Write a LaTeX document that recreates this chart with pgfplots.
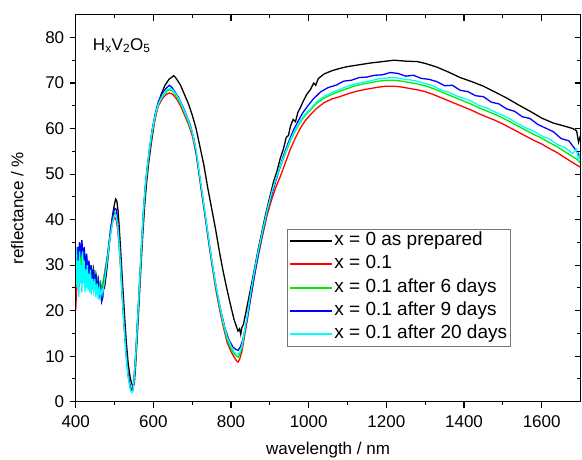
\documentclass[border=0pt]{standalone}
\usepackage{fontspec}
\setmainfont{Liberation Sans}
\usepackage{pgfplots}
\pgfplotsset{compat=1.18}
\definecolor{cgreen}{RGB}{0,235,0}
\definecolor{cblue}{RGB}{0,0,255}
\definecolor{ccyan}{RGB}{0,255,255}
\definecolor{cred}{RGB}{255,0,0}
\definecolor{lgray}{RGB}{120,120,120}
\begin{document}
\begin{tikzpicture}[x=1pt,y=1pt]
\pgfplotsset{
  common/.style={
    at={(0pt,0pt)}, anchor=south west,
    width=504.8pt, height=387pt, scale only axis,
    xmin=400, xmax=1700, ymin=0, ymax=85,
    xtick={400,600,...,1600}, ytick={0,10,...,80},
    minor x tick num=1, minor y tick num=1,
    major tick length=6pt, minor tick length=3.5pt,
    axis line style={line width=1.3pt},
    every tick/.style={line width=1.1pt, black},
  }
}
\begin{axis}[common,
  tick align=outside, xtick pos=left, ytick pos=left,
  /pgf/number format/assume math mode=true,
  /pgf/number format/1000 sep={},
  ticklabel style={font=\fontsize{17}{20}\selectfont},
  xticklabel style={anchor=north, yshift=-4pt},
  yticklabel style={anchor=east, xshift=-2pt},
  xlabel={wavelength / nm}, ylabel={reflectance / \%},
  xlabel style={font=\fontsize{17}{20}\selectfont, at={(axis description cs:0.5,-0.1364)}, anchor=base},
  ylabel style={font=\fontsize{17}{20}\selectfont, at={(axis description cs:-0.1038,0.5)}, anchor=base},
  legend cell align=left,
  legend style={at={(axis description cs:0.4186,0.4463)}, anchor=north west,
    draw=lgray, line width=0.8pt, inner sep=2pt, row sep=4.4pt,
    font=\fontsize{19}{21}\selectfont,
    nodes={inner sep=1pt, text height=13pt, text depth=4pt}},
  legend image code/.code={\draw[#1, line width=2pt] (0pt,0pt) -- (42pt,0pt);},
]
\addplot[draw=black, line width=1.3pt] coordinates {
(400,28)(402,32)(404,29)(406,34)(408,30)(410,35)(413,31)(416,34.5)(419,30)(422,33)(425,29)(428,32)(431,28)(434,30.5)(437,27.5)(440,30)(443,27)(446,29)(449,26.5)(452,28)(455,26)(458,27)(461,25)(464,26)(467,24)(470,24.5)(474,25)(478,27.5)(482,30.5)(486,34)(490,37.5)(495,41)(500,43.5)(503,44.5)(506,44)(509,42)(512,38.5)(516,33)(520,27)(525,20)(530,13.5)(535,8.5)(540,5.5)(544,4)(548,3.3)(551,4)(554,7.5)(558,13.5)(563,21.5)(568,29.5)(573,37)(578,43.5)(583,48.5)(588,52.5)(595,57)(602,61)(610,64.5)(620,67.5)(630,69.5)(640,70.8)(648,71.3)(652,71.6)(656,71.3)(662,70.6)(670,69.5)(680,67.5)(690,65.5)(700,63)(710,60)(720,56)(730,52)(740,47)(750,42.5)(760,38)(770,33)(780,28.5)(790,24.5)(800,20.8)(808,18)(814,16.5)(818,15.5)(822,16)(825,14.8)(828,16.3)(832,17)(838,19.5)(845,22.5)(852,25.5)(860,29)(870,33.5)(880,37.5)(890,41.5)(900,45)(910,48.5)(918,50.5)(927,53.5)(935,55.5)(942,58)(948,58.5)(953,60.5)(960,62)(966,61.5)(972,63.5)(978,64.5)(986,66)(995,67.5)(1004,68.5)(1013,70)(1018,69.5)(1025,71)(1040,72)(1060,72.7)(1080,73.2)(1100,73.6)(1130,74)(1160,74.4)(1190,74.7)(1220,75)(1250,74.8)(1280,74.7)(1300,74.3)(1330,73.5)(1360,72.4)(1390,71.2)(1420,70.3)(1450,69.3)(1480,68)(1510,66.7)(1540,65.2)(1570,63.8)(1600,62.3)(1630,61.2)(1660,60.5)(1680,60)(1690,59.5)(1695,57)(1700,58.5)
};
\addlegendentry{x = 0 as prepared}
\addplot[draw=cred, line width=1.3pt] coordinates {
(400,20)(402,24)(405,27)(408,25)(411,29)(414,26)(417,31)(420,27)(423,30)(426,26)(429,29)(432,27)(435,28)(438,26)(441,27.5)(444,25.5)(447,27)(450,25)(453,26)(456,24.5)(459,25.5)(462,24)(465,24.5)(468,25)(472,27)(476,29)(480,31)(485,34)(490,37)(495,39.5)(500,40.5)(504,40)(508,38)(512,34)(516,29)(520,23)(525,16.5)(530,10.5)(535,6)(540,3.5)(544,2.5)(547,2.5)(550,4.5)(555,10.5)(560,18.5)(565,26.5)(570,34.5)(575,42)(580,47.5)(585,51.5)(590,55)(597,59)(605,62.5)(613,65)(625,66.8)(635,67.6)(642,67.8)(650,67.5)(660,66.5)(670,65)(680,63)(690,61)(700,58.5)(710,54.5)(720,48.5)(730,42.5)(740,36.5)(750,30.5)(760,25)(770,20.5)(780,16.5)(790,13)(800,11)(808,9.8)(814,9)(818,8.7)(822,9.3)(828,11)(835,14.5)(842,18)(850,22.5)(860,27.5)(870,32)(880,36)(893,41)(905,44.5)(915,47)(927,49.5)(940,52.5)(953,55.5)(965,57.8)(978,60)(990,61.6)(1004,63)(1020,64.4)(1040,65.7)(1060,66.5)(1080,67)(1100,67.6)(1120,68.1)(1140,68.5)(1160,68.8)(1180,69.1)(1200,69.3)(1220,69.3)(1240,69.1)(1260,68.8)(1280,68.5)(1300,68.1)(1320,67.5)(1340,66.8)(1360,66.1)(1380,65.4)(1400,64.7)(1420,64)(1440,63.2)(1460,62.5)(1480,61.8)(1500,61)(1520,60.1)(1540,59.2)(1560,58.3)(1580,57.4)(1600,56.6)(1620,55.6)(1640,54.7)(1660,53.6)(1680,52.5)(1690,52)(1700,51.5)
};
\addlegendentry{x = 0.1}
\addplot[draw=cgreen, line width=1.3pt] coordinates {
(400,26)(403,30)(406,27)(409,32)(412,28)(415,33)(418,29)(421,32)(424,28)(427,31)(430,27.5)(433,30)(436,27)(439,29)(442,26.5)(445,28.5)(448,26.5)(451,28)(454,25.5)(457,27)(460,25)(463,26)(466,25)(470,26)(474,28)(478,30)(482,32)(486,35)(490,37.5)(495,40)(500,41.5)(504,41.3)(508,39.2)(512,34.8)(516,29.2)(520,23.3)(525,16.3)(530,10.3)(535,5.7)(540,3.2)(544,2.3)(547,2.4)(550,4.6)(555,10.8)(560,18.9)(565,26.8)(570,34.8)(575,42.3)(580,47.8)(585,51.8)(590,55.3)(597,59.3)(605,62.8)(613,65.3)(625,67.3)(635,68.2)(642,68.5)(650,68.2)(660,67)(670,65.5)(680,63.5)(690,61.5)(700,59)(710,55)(720,49)(730,43)(740,37)(750,31)(760,25.6)(770,21.1)(780,17)(790,13.7)(800,11.7)(808,10.5)(814,10)(818,9.8)(822,10.3)(828,11.8)(835,15.2)(842,18.7)(850,23.2)(860,28.2)(870,32.7)(880,36.7)(893,41.7)(905,45.7)(915,48.5)(927,51.5)(940,54.5)(953,57.3)(965,59.4)(978,61.3)(990,62.8)(1004,64)(1020,65.5)(1040,66.7)(1060,67.5)(1080,68.2)(1100,68.8)(1120,69.4)(1140,69.8)(1160,70.1)(1180,70.4)(1200,70.6)(1220,70.6)(1240,70.4)(1260,70.1)(1280,69.8)(1300,69.4)(1320,68.8)(1340,68.1)(1360,67.4)(1380,66.7)(1400,66)(1420,65.3)(1440,64.5)(1460,63.8)(1480,63.1)(1500,62.3)(1520,61.4)(1540,60.5)(1560,59.6)(1580,58.7)(1600,57.9)(1620,56.9)(1640,56)(1660,54.9)(1680,53.8)(1690,53.3)(1700,52.5)
};
\addlegendentry{x = 0.1 after 6 days}
\addplot[draw=cblue, line width=1.3pt] coordinates {
(400,30)(402,33)(404,29)(406,34)(408,31)(410,35)(413,32)(416,35.5)(419,31)(422,34)(425,29)(428,32.5)(431,28)(434,31)(437,27)(440,30)(443,26.5)(446,29)(449,25.5)(452,28)(455,24.5)(458,26.5)(461,23.5)(464,25)(467,22)(470,23)(474,27)(478,29.5)(482,32)(486,35)(490,38)(495,40.5)(500,42.5)(504,42.3)(508,40)(512,35.5)(516,30)(520,24)(525,17)(530,11)(535,6)(540,3.5)(544,2.5)(547,2.6)(550,4.8)(555,11)(560,19)(565,27)(570,35)(575,42.5)(580,48)(585,52)(590,55.5)(597,59.8)(605,63.3)(613,66)(625,68)(635,69)(641,69.5)(648,69)(656,68)(665,66.8)(675,65)(685,63)(695,60.8)(705,57.5)(715,52)(725,46)(735,40)(745,34)(755,28.5)(765,23.5)(775,19.5)(785,16)(795,13.5)(805,12)(812,11.5)(818,11.3)(824,12)(830,13.5)(838,16.5)(846,20.5)(855,25)(865,30)(875,34.5)(887,39.5)(898,43.5)(910,47)(922,50.5)(935,54)(948,57)(960,59.5)(972,61.5)(985,63.5)(998,65)(1012,66.5)(1030,68)(1050,69)(1070,69.5)(1090,70.4)(1110,70.6)(1130,71.2)(1150,71.3)(1170,71.7)(1190,71.8)(1210,72.3)(1230,72.1)(1250,71.5)(1270,71.7)(1290,71)(1310,70.8)(1330,70.3)(1350,69.4)(1370,69.5)(1390,68.4)(1410,68.1)(1430,67.2)(1450,67)(1470,65.8)(1490,65.4)(1510,64.3)(1530,63.8)(1550,62.6)(1570,62.2)(1590,60.9)(1610,60.1)(1630,59.3)(1650,57.8)(1670,57.3)(1685,55.6)(1692,54.8)(1700,53.5)
};
\addlegendentry{x = 0.1 after 9 days}
\addplot[draw=ccyan, line width=1.3pt] coordinates {
(400,27)(402,34)(404,25)(406,31)(408,23)(410,33)(412,26)(414,30)(416,24)(418,33)(420,26)(422,31)(424,24)(426,29)(428,25)(430,30)(432,24.5)(434,28)(436,24)(438,29)(440,23.5)(443,27)(446,24.5)(449,27)(452,23)(455,26)(458,22.5)(461,25.5)(464,23)(467,24.5)(470,24)(474,26.5)(478,29)(482,31.5)(486,34.5)(490,37)(495,39.5)(500,41)(504,41)(508,39)(512,34.5)(516,29)(520,23)(525,16)(530,10)(535,5.5)(540,3)(544,2)(547,2.2)(550,4.5)(555,10.8)(560,19)(565,27)(570,35)(575,42.5)(580,48)(585,52)(590,55.5)(597,59.5)(605,63)(613,65.5)(625,67.5)(635,68.5)(642,68.8)(650,68.5)(660,67.3)(670,65.8)(680,63.8)(690,61.8)(700,59.3)(710,55.3)(720,49.3)(730,43.3)(740,37.3)(750,31.3)(760,26)(770,21.5)(780,17.5)(790,14.2)(800,12.2)(808,11)(814,10.5)(818,10.4)(822,10.8)(828,12.3)(835,15.5)(842,19)(850,23.5)(860,28.5)(870,33)(880,37)(893,42)(905,46)(915,48.8)(927,51.8)(940,54.8)(953,57.6)(965,59.7)(978,61.6)(990,63.1)(1004,64.3)(1020,65.8)(1040,67.1)(1060,67.9)(1080,68.6)(1100,69.3)(1120,69.8)(1140,70.2)(1160,70.5)(1180,70.9)(1200,71.1)(1220,71.2)(1240,70.9)(1260,70.7)(1280,70.4)(1300,69.9)(1320,69.4)(1340,68.5)(1360,68)(1380,67.2)(1400,66.6)(1420,66)(1440,65)(1460,64.5)(1480,63.6)(1500,62.9)(1520,62)(1540,61)(1560,60.1)(1580,59.4)(1600,58.4)(1620,57.7)(1640,56.5)(1660,55.8)(1680,54.5)(1690,55.5)(1695,53)(1700,54.5)
};
\addlegendentry{x = 0.1 after 20 days}
\node[anchor=base west, font=\fontsize{17}{20}\selectfont, inner sep=0pt] at (axis cs:444,77.2) {H\textsubscript{x}V\textsubscript{2}O\textsubscript{5}};
\end{axis}
\begin{axis}[common,
  tick align=inside, xtick pos=right, ytick pos=right,
  xticklabels={}, yticklabels={},
]
\end{axis}
\pgfresetboundingbox
\path[use as bounding box] (-75.7pt,-57.3pt) rectangle (506.3pt,401.7pt);
\end{tikzpicture}
\end{document}
